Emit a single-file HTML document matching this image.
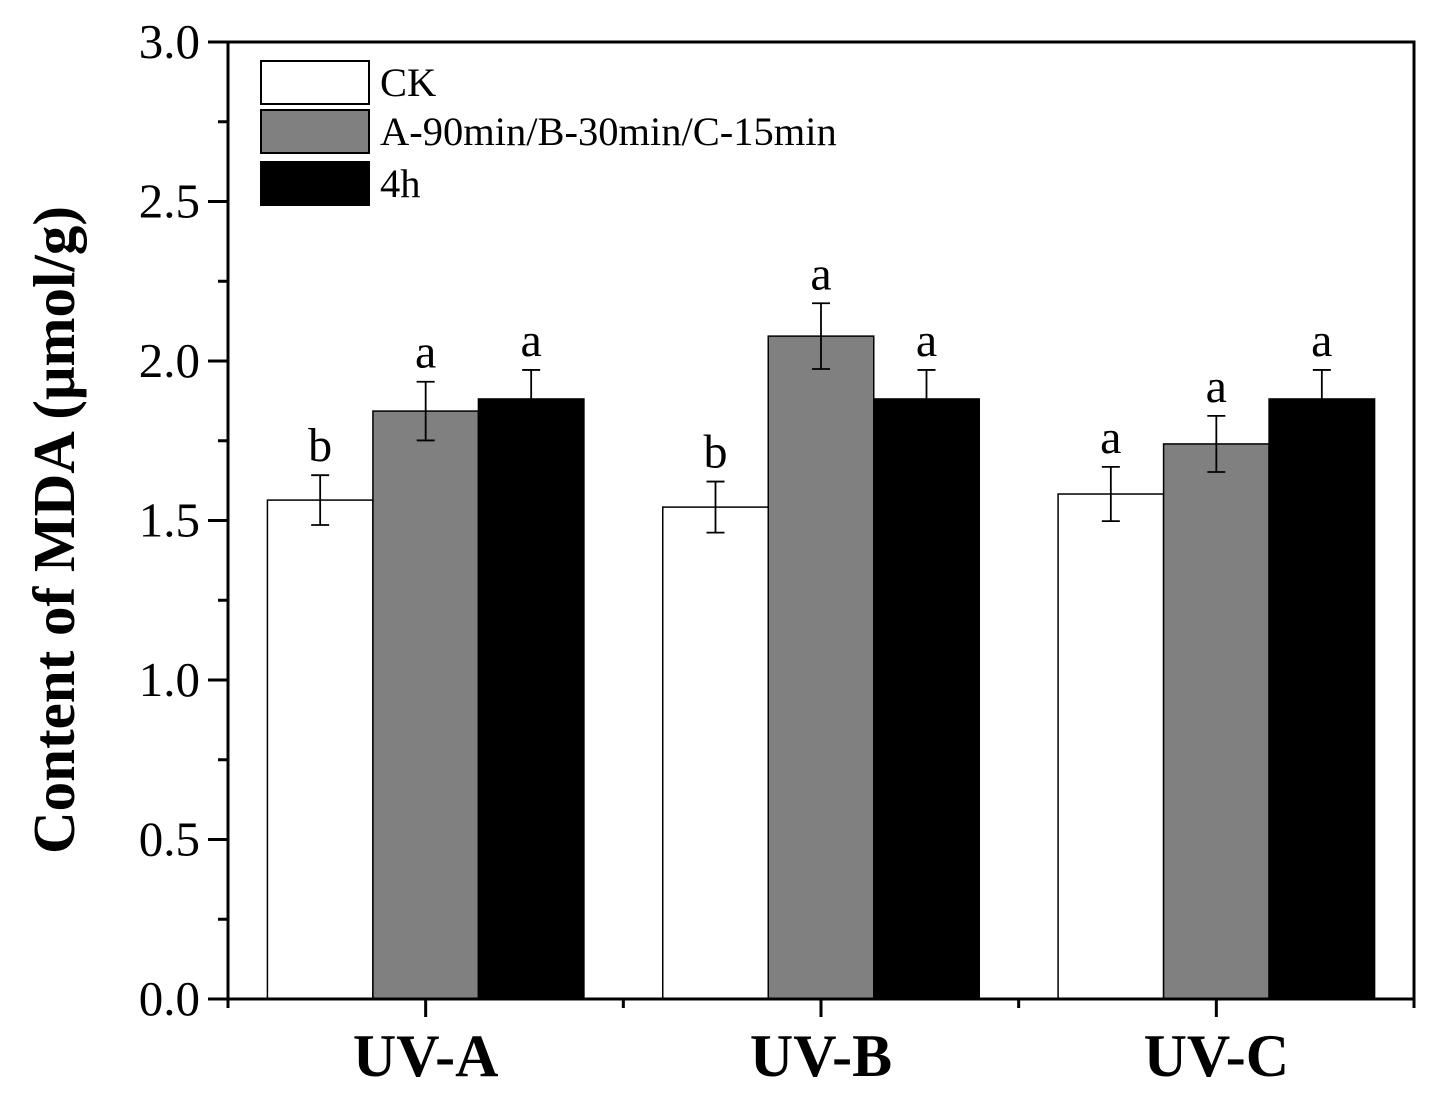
<!DOCTYPE html>
<html><head><meta charset="utf-8"><style>
html,body{margin:0;padding:0;background:#fff}
svg{display:block;font-family:"Liberation Serif",serif}
</style></head><body>
<svg id="chart" width="1441" height="1096" viewBox="0 0 1441 1096" xmlns="http://www.w3.org/2000/svg"></svg>
<script>
const categories = ["UV-A","UV-B","UV-C"];
const seriesNames = ["CK","A-90min/B-30min/C-15min","4h"];
const ckValues = [1.564, 1.542, 1.583];
const midValues = [1.843, 2.078, 1.740];
const h4Values = [1.881, 1.881, 1.881];
const ckErr = [0.078, 0.08, 0.085];
const midErr = [0.092, 0.103, 0.088];
const h4Err = [0.091, 0.091, 0.091];
const ckLetters = ["b","b","a"];
const midLetters = ["a","a","a"];
const h4Letters = ["a","a","a"];
const yTicks = [0.0, 0.5, 1.0, 1.5, 2.0, 2.5, 3.0];

const svg = document.getElementById('chart');
const NS = 'http://www.w3.org/2000/svg';
const L=228, R=1414, T=42, B=999;
const yMin=0, yMax=3;
function y(v){return B-(v-yMin)/(yMax-yMin)*(B-T);}
const band=(R-L)/categories.length;
function xc(i){return L+band*(i+0.5);}
const barW=105.5;
function mk(tag, attrs){const e=document.createElementNS(NS,tag);for(const k in attrs)e.setAttribute(k,attrs[k]);svg.appendChild(e);return e;}

const series=[
 {vals:ckValues,err:ckErr,let:ckLetters,fill:"#ffffff",key:"ck"},
 {vals:midValues,err:midErr,let:midLetters,fill:"#808080",key:"uv-dose"},
 {vals:h4Values,err:h4Err,let:h4Letters,fill:"#000000",key:"4h"}];

categories.forEach((c,i)=>{
  series.forEach((s,j)=>{
    const x0=xc(i)+(j-1.5)*barW;
    const v=s.vals[i];
    const r=mk('rect',{x:x0,y:y(v),width:barW,height:B-y(v),fill:s.fill,stroke:"#000","stroke-width":1.5});
    
    
    const cx=x0+barW/2, e=s.err[i];
    const g=mk('path',{d:`M${cx},${y(v+e)}V${y(v-e)}M${cx-9},${y(v+e)}H${cx+9}M${cx-9},${y(v-e)}H${cx+9}`,stroke:"#000","stroke-width":1.8,fill:"none"});
    
    
    const t=mk('text',{x:cx,y:y(v+e)-14,"text-anchor":"middle","font-size":48});
    t.textContent=s.let[i];
    
    
  });
  const tk=mk('line',{x1:xc(i),x2:xc(i),y1:B,y2:B+18,stroke:"#000","stroke-width":3});
  
  
  const lb=mk('text',{x:xc(i),y:1076,"text-anchor":"middle","font-size":60,"font-weight":"bold"});
  lb.textContent=c;
  
  
});
for(let i=0;i<=categories.length;i++){
  const mt=mk('line',{x1:L+band*i,x2:L+band*i,y1:B,y2:B+9,stroke:"#000","stroke-width":3});
  
  
}
yTicks.forEach((v,k)=>{
  const t=mk('line',{x1:208,x2:L,y1:y(v),y2:y(v),stroke:"#000","stroke-width":3});
  
  
  if(k<yTicks.length-1){
    const m=mk('line',{x1:218,x2:L,y1:y(v+0.25),y2:y(v+0.25),stroke:"#000","stroke-width":3});
    
    
  }
  const l=mk('text',{x:200,y:y(v)+16,"text-anchor":"end","font-size":49});
  l.textContent=v.toFixed(1);
  
  
});
const frame=mk('rect',{x:L,y:T,width:R-L,height:B-T,fill:"none",stroke:"#000","stroke-width":3});


const yt=mk('text',{x:0,y:0,transform:"translate(74,530) rotate(-90)","text-anchor":"middle","font-size":59,"font-weight":"bold"});
yt.textContent="Content of MDA (μmol/g)";


const legY=[61,110,162];
series.forEach((s,j)=>{
  const r=mk('rect',{x:261,y:legY[j],width:108,height:43,fill:s.fill,stroke:"#000","stroke-width":2});
  
  
  const t=mk('text',{x:380,y:legY[j]+35,"font-size":40.5});
  t.textContent=seriesNames[j];
  
  
});
</script>
</body></html>
